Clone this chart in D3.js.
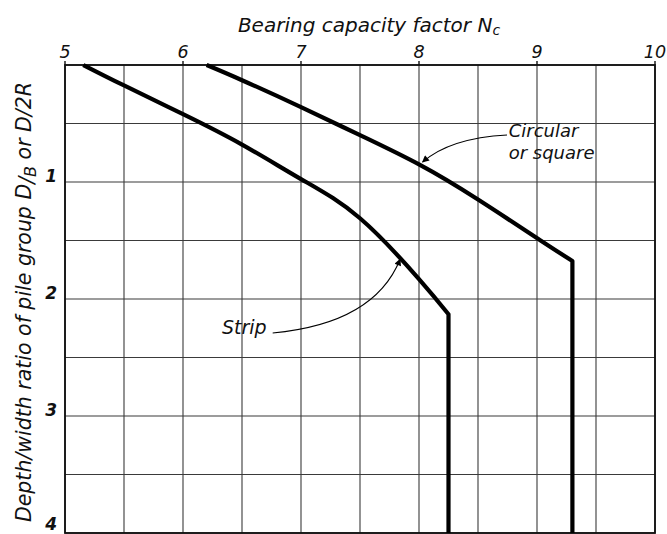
<!DOCTYPE html>
<html>
<head>
<meta charset="utf-8">
<script src="https://cdn.jsdelivr.net/npm/d3@7"></script>
<style>
  body { margin: 0; background: #fff; }
  svg { display: block; }
  text { font-family: "DejaVu Sans", sans-serif; font-style: oblique; fill: #111; }
</style>
</head>
<body>
<svg id="chart" width="667" height="534"></svg>
<script>
// Bearing capacity factor Nc against depth/width ratio (Skempton-type chart)
const ncTicks = [5, 6, 7, 8, 9, 10];
const depthTicks = [1, 2, 3, 4];
const ncGrid = [5, 5.5, 6, 6.5, 7, 7.5, 8, 8.5, 9, 9.5, 10];
const depthGrid = [0, 0.5, 1, 1.5, 2, 2.5, 3, 3.5, 4];

// Circular or square foundations: curved rise, then constant Nc
const circularNc    = [6.20, 6.50, 7.00, 7.50, 8.00, 8.50, 9.03, 9.30, 9.30];
const circularDepth = [0.00, 0.13, 0.36, 0.60, 0.85, 1.15, 1.50, 1.675, 4.00];

// Strip foundations
const stripNc    = [5.155, 5.50, 6.00, 6.50, 7.00, 7.50, 8.00, 8.25, 8.25];
const stripDepth = [0.00, 0.175, 0.42, 0.68, 0.975, 1.31, 1.83, 2.13, 4.00];

const svg = d3.select("#chart");
const x = d3.scaleLinear().domain([5, 10]).range([65, 655]);
const y = d3.scaleLinear().domain([0, 4]).range([65, 533]);

// grid
const grid = svg.append("g");
grid.selectAll("line.v").data(ncGrid).join("line")
  .attr("x1", d => x(d)).attr("x2", d => x(d))
  .attr("y1", y(0)).attr("y2", y(4))
  .attr("stroke", "#3a3a3a").attr("stroke-width", 1.1);
grid.selectAll("line.h").data(depthGrid).join("line")
  .attr("y1", d => y(d)).attr("y2", d => y(d))
  .attr("x1", x(5)).attr("x2", x(10))
  .attr("stroke", "#3a3a3a").attr("stroke-width", 1.1);

// frame
svg.append("rect")
  .attr("x", x(5)).attr("y", y(0))
  .attr("width", x(10) - x(5)).attr("height", y(4) - y(0))
  .attr("fill", "none").attr("stroke", "#111").attr("stroke-width", 1.8);

// top axis ticks + labels
svg.append("g").selectAll("line").data(ncTicks).join("line")
  .attr("x1", d => x(d)).attr("x2", d => x(d))
  .attr("y1", y(0) - 4).attr("y2", y(0))
  .attr("stroke", "#111").attr("stroke-width", 1.4);
svg.append("g").selectAll("text").data(ncTicks).join("text")
  .attr("x", d => x(d)).attr("y", y(0) - 7)
  .attr("text-anchor", "middle")
  .attr("font-size", 17.5)
  .text(d => d);

// left axis labels
svg.append("g").selectAll("text").data(depthTicks).join("text")
  .attr("x", x(5) - 8).attr("y", d => Math.min(y(d), 530))
  .attr("text-anchor", "end")
  .attr("font-size", 17).attr("font-weight", "bold")
  .text(d => d);

// axis titles
const title = svg.append("text")
  .attr("x", 369).attr("y", 32)
  .attr("text-anchor", "middle")
  .attr("font-size", 20);
title.append("tspan").text("Bearing capacity factor N");
title.append("tspan").attr("font-size", 14).attr("dy", 3).text("c");

const ytitle = svg.append("text")
  .attr("transform", `translate(31,302) rotate(-90)`)
  .attr("text-anchor", "middle")
  .attr("font-size", 20.5);
ytitle.append("tspan").text("Depth/width ratio of pile group  D");
ytitle.append("tspan").attr("dy", 3).text("/");
ytitle.append("tspan").attr("dy", 2).attr("font-size", 16).text("B");
ytitle.append("tspan").attr("dy", -5).text(" or D/2R");

// curves: smooth rising part, then a straight vertical run
function curvePath(ncs, depths) {
  const pts = ncs.map((v, i) => [x(v), y(depths[i])]);
  const smooth = d3.line().curve(d3.curveNatural)(pts.slice(0, -1));
  const last = pts[pts.length - 1];
  return smooth + "L" + last[0] + "," + last[1];
}
svg.append("path").attr("d", curvePath(circularNc, circularDepth))
  .attr("fill", "none").attr("stroke", "#000").attr("stroke-width", 4.2)
  .attr("stroke-linejoin", "round");
svg.append("path").attr("d", curvePath(stripNc, stripDepth))
  .attr("fill", "none").attr("stroke", "#000").attr("stroke-width", 4.2)
  .attr("stroke-linejoin", "round");

// annotation leaders with arrowheads
svg.append("defs").append("marker")
  .attr("id", "arrow").attr("viewBox", "0 0 10 10")
  .attr("refX", 9).attr("refY", 5)
  .attr("markerWidth", 9).attr("markerHeight", 7)
  .attr("markerUnits", "userSpaceOnUse")
  .attr("orient", "auto")
  .append("path").attr("d", "M0,0 L10,5 L0,10 Z").attr("fill", "#000");

const circLeader = [[8.746, 0.598], [8.263, 0.624], [8.03, 0.83]];
const stripLeader = [[6.76, 2.29], [7.62, 2.21], [7.84, 1.66]];
function leader(p) {
  return `M${x(p[0][0])},${y(p[0][1])} Q${x(p[1][0])},${y(p[1][1])} ${x(p[2][0])},${y(p[2][1])}`;
}
svg.append("path").attr("d", leader(circLeader))
  .attr("fill", "none").attr("stroke", "#000").attr("stroke-width", 1.1)
  .attr("marker-end", "url(#arrow)");
svg.append("path").attr("d", leader(stripLeader))
  .attr("fill", "none").attr("stroke", "#000").attr("stroke-width", 1.1)
  .attr("marker-end", "url(#arrow)");

svg.append("text").attr("x", x(8.76)).attr("y", y(0.615))
  .attr("font-size", 18).text("Circular");
svg.append("text").attr("x", x(8.76)).attr("y", y(0.80))
  .attr("font-size", 18).text("or square");
svg.append("text").attr("x", x(6.33)).attr("y", y(2.295))
  .attr("font-size", 19).text("Strip");
</script>
</body>
</html>
